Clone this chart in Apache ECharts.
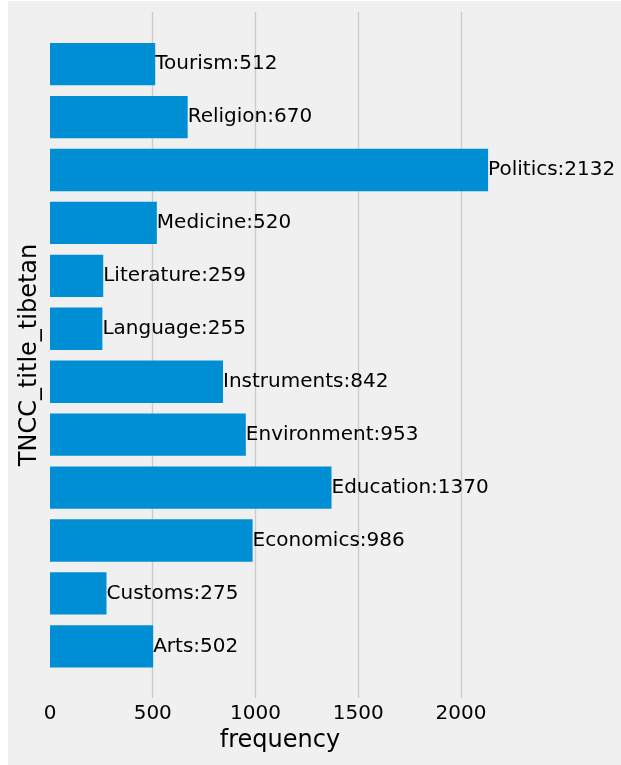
<!DOCTYPE html>
<html>
<head>
<meta charset="utf-8">
<script src="https://cdn.jsdelivr.net/npm/echarts@6/dist/echarts.min.js"></script>
<style>
  html, body { margin: 0; padding: 0; background: #ffffff; width: 621px; height: 765px; overflow: hidden; }
  #chart { position: absolute; left: 8px; top: 1px; width: 613px; height: 764px; background: #f0f0f0; }
</style>
</head>
<body>
<div id="chart"></div>
<script>
const categories = ['Arts', 'Customs', 'Economics', 'Education', 'Environment', 'Instruments',
  'Language', 'Literature', 'Medicine', 'Politics', 'Religion', 'Tourism'];
const frequencies = [502, 275, 986, 1370, 953, 842, 255, 259, 520, 2132, 670, 512];
const xTicks = [0, 500, 1000, 1500, 2000];

const FONT = 'DejaVu Sans';
const chart = echarts.init(document.getElementById('chart'), null, { renderer: 'canvas' });

// x extent as matplotlib: 0 .. max * 1.05
const xMax = Math.max(...frequencies) * 1.05;
const gridLeft = 42, gridRight = 111;
const option = {
  backgroundColor: '#f0f0f0',
  animation: false,
  textStyle: { fontFamily: FONT },
  grid: [
    { left: gridLeft, right: gridRight, top: 36.7, bottom: 92.2 },
    { left: gridLeft, right: gridRight, top: 11, bottom: 67 }
  ],
  xAxis: [
    {
      gridIndex: 0, type: 'value', min: 0, max: xMax, interval: 500,
      show: false
    },
    {
      gridIndex: 1, type: 'value', min: 0, max: xMax, interval: 500,
      axisLine: { show: false }, axisTick: { show: false },
      splitLine: { show: true, showMinLine: false, showMaxLine: false, lineStyle: { color: '#cbcbcb', width: 1.4 } },
      axisLabel: {
        color: '#000', fontSize: 20, fontFamily: FONT, margin: 6, showMaxLabel: false,
        formatter: v => (xTicks.indexOf(v) >= 0 ? String(v) : '')
      },
      name: 'frequency', nameLocation: 'middle', nameGap: 30,
      nameTextStyle: { color: '#000', fontSize: 24, fontFamily: FONT }
    }
  ],
  yAxis: [
    {
      gridIndex: 0, type: 'category', data: categories,
      axisLine: { show: false }, axisTick: { show: false }, axisLabel: { show: false },
      splitLine: { show: false }
    },
    {
      gridIndex: 1, type: 'value', min: 0, max: 1,
      axisLine: { show: false }, axisTick: { show: false }, axisLabel: { show: false },
      splitLine: { show: false },
      name: 'TNCC_title_tibetan', nameLocation: 'middle', nameRotate: 90, nameGap: 8,
      nameTextStyle: { color: '#000', fontSize: 24, fontFamily: FONT }
    }
  ],
  series: [
    {
      type: 'bar', xAxisIndex: 0, yAxisIndex: 0,
      data: frequencies,
      barWidth: '80%',
      clip: false,
      itemStyle: { color: '#008fd5' },
      label: {
        show: true, position: 'right', distance: 0,
        color: '#000', fontSize: 20, fontFamily: FONT,
        formatter: p => categories[p.dataIndex] + ':' + p.value
      }
    }
  ]
};
chart.setOption(option);
</script>
</body>
</html>
